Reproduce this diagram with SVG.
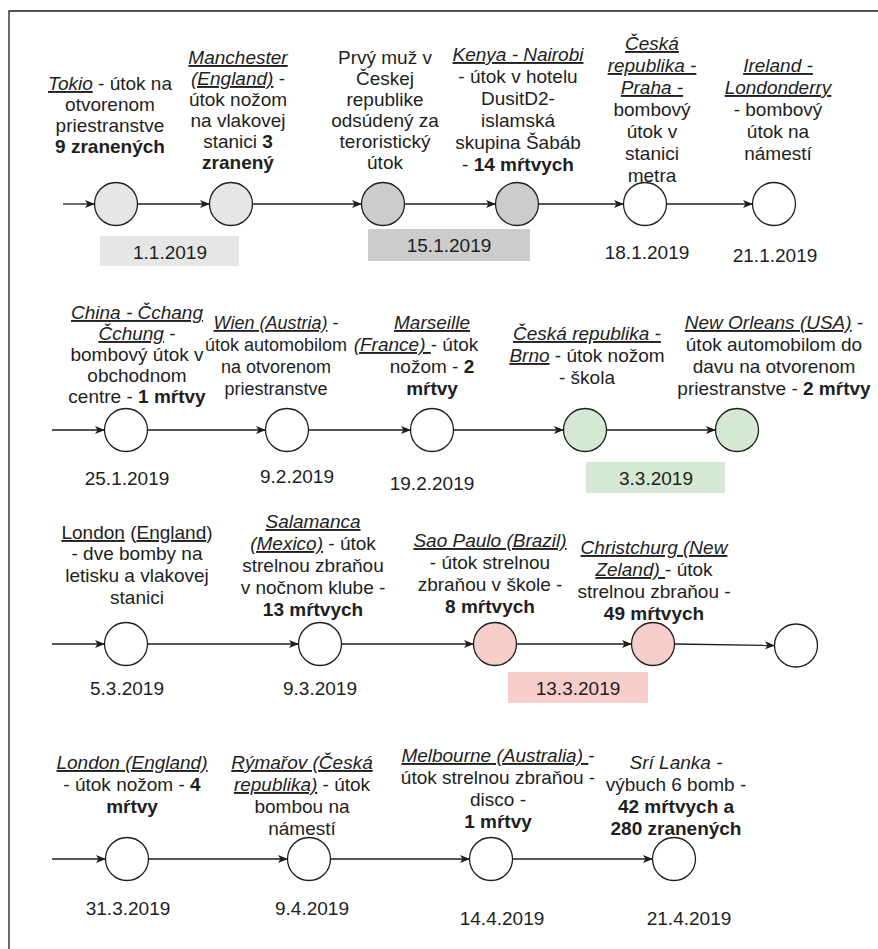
<svg xmlns="http://www.w3.org/2000/svg" width="878" height="949" viewBox="0 0 878 949">
<style>
text{font-family:"Liberation Sans",Arial,sans-serif;font-size:19px;fill:#1e1e1e;text-anchor:middle}
.s{font-size:18px}
.i{font-style:italic}
.u{text-decoration:underline}
.b{font-weight:bold}
.n{fill:#ffffff;stroke:#1e1e1e;stroke-width:1.3}
.g1{fill:#e6e6e6}
.g2{fill:#cccccc}
.gr{fill:#d5e8d4}
.rd{fill:#f8cecc}
.c{stroke:#1e1e1e;stroke-width:1.3;fill:none;marker-end:url(#a)}
</style>
<defs>
<marker id="a" viewBox="0 0 10 8" refX="9.5" refY="4" markerWidth="10" markerHeight="8" markerUnits="userSpaceOnUse" orient="auto">
<path d="M0,0 L10,4 L0,8 L2.5,4 Z" fill="#1e1e1e"/>
</marker>
</defs>
<rect width="878" height="949" fill="#ffffff"/>
<path d="M9,949 V11 H878" fill="none" stroke="#1e1e1e" stroke-width="1.3"/>

<g id="connectors">
<line class="c" x1="63" y1="204" x2="94.5" y2="204"/>
<line class="c" x1="137.5" y1="204" x2="209.5" y2="204"/>
<line class="c" x1="252.5" y1="204" x2="361.5" y2="204"/>
<line class="c" x1="404.5" y1="204" x2="495.5" y2="204"/>
<line class="c" x1="538.5" y1="204" x2="623.5" y2="204"/>
<line class="c" x1="666.5" y1="204" x2="752.5" y2="204"/>

<line class="c" x1="52" y1="430" x2="104.5" y2="430"/>
<line class="c" x1="147.5" y1="430" x2="265.5" y2="430"/>
<line class="c" x1="308.5" y1="430" x2="410.5" y2="430"/>
<line class="c" x1="453.5" y1="430" x2="563.5" y2="430"/>
<line class="c" x1="606.5" y1="430" x2="715.5" y2="430"/>

<line class="c" x1="52" y1="644" x2="104.5" y2="644"/>
<line class="c" x1="147.5" y1="644" x2="298.5" y2="644"/>
<line class="c" x1="341.5" y1="644" x2="473.5" y2="644"/>
<line class="c" x1="516.5" y1="644" x2="631.5" y2="644"/>
<line class="c" x1="674.5" y1="644" x2="774.5" y2="645.5"/>

<line class="c" x1="52" y1="859" x2="105.5" y2="859"/>
<line class="c" x1="148.5" y1="859" x2="287.5" y2="859"/>
<line class="c" x1="330.5" y1="859" x2="469.5" y2="859"/>
<line class="c" x1="512.5" y1="859" x2="652.5" y2="859"/>
</g>

<!-- Row 1 -->
<g id="n-tokio">
<circle class="n g1" cx="116" cy="204" r="21.5"/>
<text><tspan x="110" y="90"><tspan class="i u">Tokio</tspan> - útok na</tspan><tspan x="110" y="111">otvorenom</tspan><tspan x="110" y="132">priestranstve</tspan><tspan x="110" y="153" class="b">9 zranených</tspan></text>
<rect class="g1" x="100" y="236" width="139" height="30"/>
<text x="170" y="259">1.1.2019</text>
</g>
<g id="n-manchester">
<circle class="n g1" cx="231" cy="204" r="21.5"/>
<text><tspan x="238" y="64" class="i u">Manchester</tspan><tspan x="238" y="85"><tspan class="i u">(England)</tspan> -</tspan><tspan x="238" y="106">útok nožom</tspan><tspan x="238" y="127">na vlakovej</tspan><tspan x="238" y="148">stanici <tspan class="b">3</tspan></tspan><tspan x="238" y="169" class="b">zranený</tspan></text>
</g>
<g id="n-prvy">
<circle class="n g2" cx="383" cy="204" r="21.5"/>
<text><tspan x="385" y="64">Prvý muž v</tspan><tspan x="385" y="85">Českej</tspan><tspan x="385" y="106">republike</tspan><tspan x="385" y="127">odsúdený za</tspan><tspan x="385" y="148">teroristický</tspan><tspan x="385" y="169">útok</tspan></text>
</g>
<g id="n-kenya">
<circle class="n g2" cx="517" cy="204" r="21.5"/>
<text><tspan x="518" y="61" class="i u">Kenya - Nairobi</tspan><tspan x="518" y="83">- útok v hotelu</tspan><tspan x="518" y="105">DusitD2-</tspan><tspan x="518" y="127">islamská</tspan><tspan x="518" y="149">skupina Šabáb</tspan><tspan x="518" y="171">- <tspan class="b">14 mŕtvych</tspan></tspan></text>
<rect class="g2" x="368" y="229" width="162" height="32"/>
<text x="449" y="252">15.1.2019</text>
</g>
<g id="n-praha">
<circle class="n" cx="645" cy="204" r="21.5"/>
<text><tspan x="652" y="50" class="i u">Česká</tspan><tspan x="652" y="72" class="i u">republika -</tspan><tspan x="652" y="94" class="i u">Praha -</tspan><tspan x="652" y="116">bombový</tspan><tspan x="652" y="138">útok v</tspan><tspan x="652" y="160">stanici</tspan><tspan x="652" y="182">metra</tspan></text>
<text x="647" y="259">18.1.2019</text>
</g>
<g id="n-ireland">
<circle class="n" cx="774" cy="204" r="21.5"/>
<text><tspan x="778" y="72" class="i u">Ireland -</tspan><tspan x="778" y="94" class="i u">Londonderry</tspan><tspan x="778" y="116">- bombový</tspan><tspan x="778" y="138">útok na</tspan><tspan x="778" y="160">námestí</tspan></text>
<text x="775" y="262">21.1.2019</text>
</g>

<!-- Row 2 -->
<g id="n-china">
<circle class="n" cx="126" cy="430" r="21.5"/>
<text><tspan x="137" y="319" class="i u">China - Čchang</tspan><tspan x="137" y="340"><tspan class="i u">Čchung</tspan> -</tspan><tspan x="137" y="361">bombový útok v</tspan><tspan x="137" y="382">obchodnom</tspan><tspan x="137" y="403">centre - <tspan class="b">1 mŕtvy</tspan></tspan></text>
<text x="127" y="485">25.1.2019</text>
</g>
<g id="n-wien">
<circle class="n" cx="287" cy="430" r="21.5"/>
<text class="s"><tspan x="276" y="329"><tspan class="i u">Wien (Austria)</tspan> -</tspan><tspan x="276" y="351">útok automobilom</tspan><tspan x="276" y="373">na otvorenom</tspan><tspan x="276" y="395">priestranstve</tspan></text>
<text x="297" y="483">9.2.2019</text>
</g>
<g id="n-marseille">
<circle class="n" cx="432" cy="430" r="21.5"/>
<text><tspan x="432" y="329" class="i u">Marseille</tspan><tspan x="416" y="351"><tspan class="i u">(France)&#160;</tspan>- útok</tspan><tspan x="432" y="373">nožom - <tspan class="b">2</tspan></tspan><tspan x="432" y="395" class="b">mŕtvy</tspan></text>
<text x="432" y="490">19.2.2019</text>
</g>
<g id="n-brno">
<circle class="n gr" cx="585" cy="430" r="21.5"/>
<text><tspan x="587" y="340" class="i u">Česká republika -</tspan><tspan x="587" y="362"><tspan class="i u">Brno</tspan> - útok nožom</tspan><tspan x="587" y="384">- škola</tspan></text>
<rect class="gr" x="586" y="462" width="139" height="31"/>
<text x="656" y="485">3.3.2019</text>
</g>
<g id="n-neworleans">
<circle class="n gr" cx="737" cy="430" r="21.5"/>
<text><tspan x="774" y="329"><tspan class="i u">New Orleans (USA)</tspan> -</tspan><tspan x="774" y="351">útok automobilom do</tspan><tspan x="774" y="373">davu na otvorenom</tspan><tspan x="774" y="395">priestranstve - <tspan class="b">2 mŕtvy</tspan></tspan></text>
</g>

<!-- Row 3 -->
<g id="n-london1">
<circle class="n" cx="126" cy="644" r="21.5"/>
<text><tspan x="137" y="539"><tspan class="u">London</tspan> (<tspan class="u">England</tspan>)</tspan><tspan x="137" y="560">- dve bomby na</tspan><tspan x="137" y="582">letisku a vlakovej</tspan><tspan x="137" y="604">stanici</tspan></text>
<text x="127" y="695">5.3.2019</text>
</g>
<g id="n-salamanca">
<circle class="n" cx="320" cy="644" r="21.5"/>
<text><tspan x="313" y="528" class="i u">Salamanca</tspan><tspan x="313" y="550"><tspan class="i u">(Mexico)</tspan> - útok</tspan><tspan x="313" y="572">strelnou zbraňou</tspan><tspan x="313" y="594">v nočnom klube -</tspan><tspan x="313" y="616" class="b">13 mŕtvych</tspan></text>
<text x="320" y="695">9.3.2019</text>
</g>
<g id="n-saopaulo">
<circle class="n rd" cx="495" cy="644" r="21.5"/>
<text><tspan x="490" y="547" class="i u">Sao Paulo (Brazil)</tspan><tspan x="490" y="569">- útok strelnou</tspan><tspan x="490" y="591">zbraňou v škole -</tspan><tspan x="490" y="613" class="b">8 mŕtvych</tspan></text>
<rect class="rd" x="508" y="672" width="140" height="31"/>
<text x="578" y="695">13.3.2019</text>
</g>
<g id="n-christchurg">
<circle class="n rd" cx="653" cy="644" r="21.5"/>
<text><tspan x="654" y="554" class="i u">Christchurg (New</tspan><tspan x="654" y="576"><tspan class="i u">Zeland) </tspan>- útok</tspan><tspan x="654" y="598">strelnou zbraňou -</tspan><tspan x="654" y="620" class="b">49 mŕtvych</tspan></text>
</g>
<g id="n-row3-end">
<circle class="n" cx="796" cy="645.5" r="21.5"/>
</g>

<!-- Row 4 -->
<g id="n-london2">
<circle class="n" cx="127" cy="859" r="21.5"/>
<text><tspan x="132" y="769" class="i u">London (England)</tspan><tspan x="132" y="791">- útok nožom - <tspan class="b">4</tspan></tspan><tspan x="132" y="813" class="b">mŕtvy</tspan></text>
<text x="128" y="915">31.3.2019</text>
</g>
<g id="n-rymarov">
<circle class="n" cx="309" cy="859" r="21.5"/>
<text><tspan x="302" y="769" class="i u">Rýmařov (Česká</tspan><tspan x="302" y="791"><tspan class="i u">republika)</tspan> - útok</tspan><tspan x="302" y="813">bombou na</tspan><tspan x="302" y="835">námestí</tspan></text>
<text x="312" y="915">9.4.2019</text>
</g>
<g id="n-melbourne">
<circle class="n" cx="491" cy="859" r="21.5"/>
<text><tspan x="498" y="762"><tspan class="i u">Melbourne (Australia) </tspan>-</tspan><tspan x="498" y="784">útok strelnou zbraňou -</tspan><tspan x="498" y="806">disco -</tspan><tspan x="498" y="828" class="b">1 mŕtvy</tspan></text>
<text x="502" y="925">14.4.2019</text>
</g>
<g id="n-srilanka">
<circle class="n" cx="674" cy="859" r="21.5"/>
<text><tspan x="676" y="769" class="i">Srí Lanka -</tspan><tspan x="676" y="791">výbuch 6 bomb -</tspan><tspan x="676" y="813" class="b">42 mŕtvych a</tspan><tspan x="676" y="835" class="b">280 zranených</tspan></text>
<text x="689" y="925">21.4.2019</text>
</g>
</svg>
